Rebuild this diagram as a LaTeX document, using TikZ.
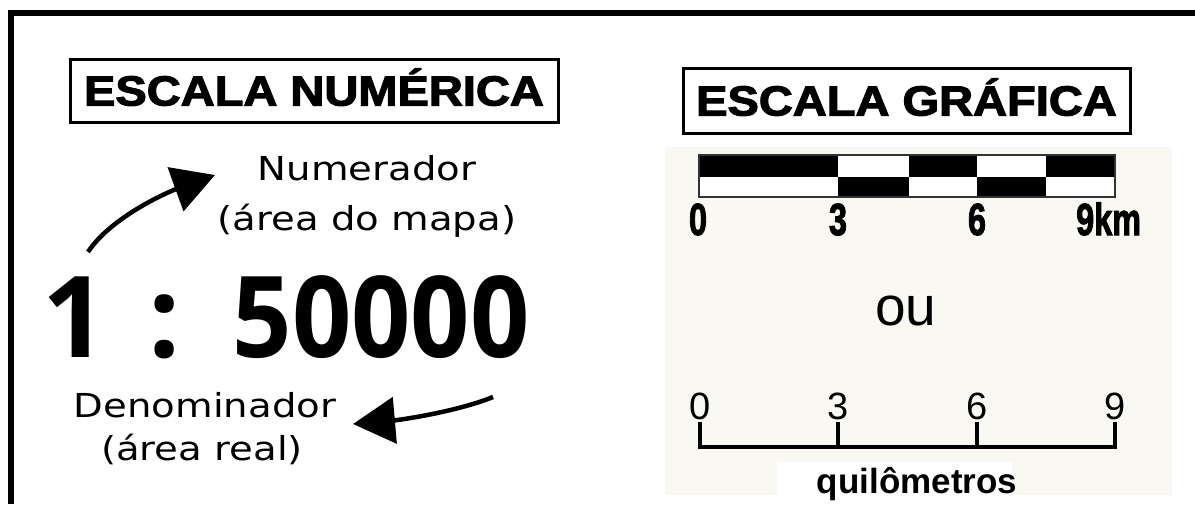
\documentclass[tikz,border=0pt]{standalone}
\usepackage{fontspec}
\usepackage{graphicx}
\setmainfont{Liberation Sans}
\newfontfamily\hwfont{DejaVu Sans}
\newfontfamily\numfont{Open Sans}
\newfontfamily\heavyfont{Liberation Sans}[FakeBold=2.5]
\usetikzlibrary{arrows.meta}
\definecolor{panel}{HTML}{F9F8F2}
\begin{document}
\begin{tikzpicture}[x=1pt,y=-1pt,
  titlebox/.style={draw=black, line width=3pt, inner sep=0pt, text height=30pt, text depth=0pt,
    font=\heavyfont\bfseries\fontsize{42}{42}\selectfont},
  hw/.style={anchor=base, inner sep=0pt, xscale=1.17, font=\hwfont\fontsize{33}{33}\selectfont},
  bignum/.style={anchor=base, inner sep=0pt, font=\numfont\bfseries\fontsize{113}{113}\selectfont},
  barlab/.style={anchor=base, inner sep=0pt, font=\heavyfont\bfseries\fontsize{45}{45}\selectfont},
  scalelab/.style={anchor=base, inner sep=0pt, font=\fontsize{38}{38}\selectfont},
  scaleline/.style={line width=4pt, line cap=rect},
  bigarrow/.style={line width=4.5pt, -{Triangle[length=42pt,width=46pt]}},
]
\useasboundingbox (0,0) rectangle (1195,504);
\fill[white] (0,0) rectangle (1195,504);
% outer frame (top and left)
\draw[line width=6pt] (11,504) -- (11,13) -- (1195,13);

% ---------- left part ----------
\node[titlebox, minimum width=488pt, minimum height=63pt] (numtitle) at (314,90.5)
  {\scalebox{1.12}[1]{ESCALA NUMÉRICA}};

\node[hw] (numer1) at (367,180) {Numerador};
\node[hw] (numer2) at (367,230) {(área do mapa)};

\node[bignum] (one) at (75,357) {1};
\node[bignum] (colon) at (165,357) {:};
\node[bignum, xscale=0.92] (denom) at (381,357) {50000};

\node[hw] (den1) at (205,417) {Denominador};
\node[hw] (den2) at (202,460) {(área real)};

\coordinate (a1s) at (88,252);
\coordinate (a1e) at (215,175);
\draw[bigarrow] (a1s) .. controls (111,217) and (168,192) .. (a1e);

\coordinate (a2s) at (493,397);
\coordinate (a2e) at (353,424);
\draw[bigarrow] (a2s) .. controls (456,412) and (399,420) .. (a2e);

% ---------- right part ----------
\node[titlebox, minimum width=447pt, minimum height=65pt] (graftitle) at (906.5,100.5)
  {\scalebox{1.12}[1]{ESCALA GRÁFICA}};

\fill[panel] (665,147) rectangle (1172,495);
\fill[white] (777,462) rectangle (1012,495);

% checkered bar
\fill[white] (699,155) rectangle (1115,197);
\fill[black] (699,155) rectangle (838,177);
\fill[black] (909,155) rectangle (977,177);
\fill[black] (1046,155) rectangle (1115,177);
\fill[black] (838,177) rectangle (909,197);
\fill[black] (977,177) rectangle (1046,197);
\draw[line width=1.5pt, black!80] (699,155) rectangle (1115,197);

\node[barlab] (b0) at (698,235) {\scalebox{0.72}[1]{0}};
\node[barlab] (b3) at (838,235) {\scalebox{0.72}[1]{3}};
\node[barlab] (b6) at (977,235) {\scalebox{0.72}[1]{6}};
\node[barlab, anchor=base west] (b9) at (1076,235) {\scalebox{0.72}[1]{9km}};

\node[anchor=base, inner sep=0pt, font=\fontsize{55}{55}\selectfont] (ou) at (906,325) {ou};

% line scale
\node[scalelab] (s0) at (700,419) {0};
\node[scalelab] (s3) at (838,419) {3};
\node[scalelab] (s6) at (977,419) {6};
\node[scalelab] (s9) at (1115,419) {9};
\coordinate (t0) at (700,447);
\coordinate (t9) at (1115,447);
\draw[scaleline] (700,424) -- (t0) -- (t9) -- (1115,424);
\draw[scaleline] (838,424) -- (838,447);
\draw[scaleline] (977,424) -- (977,447);

\node[anchor=base, inner sep=0pt, font=\bfseries\fontsize{35}{35}\selectfont] (km) at (917,493) {quilômetros};
\end{tikzpicture}
\end{document}
